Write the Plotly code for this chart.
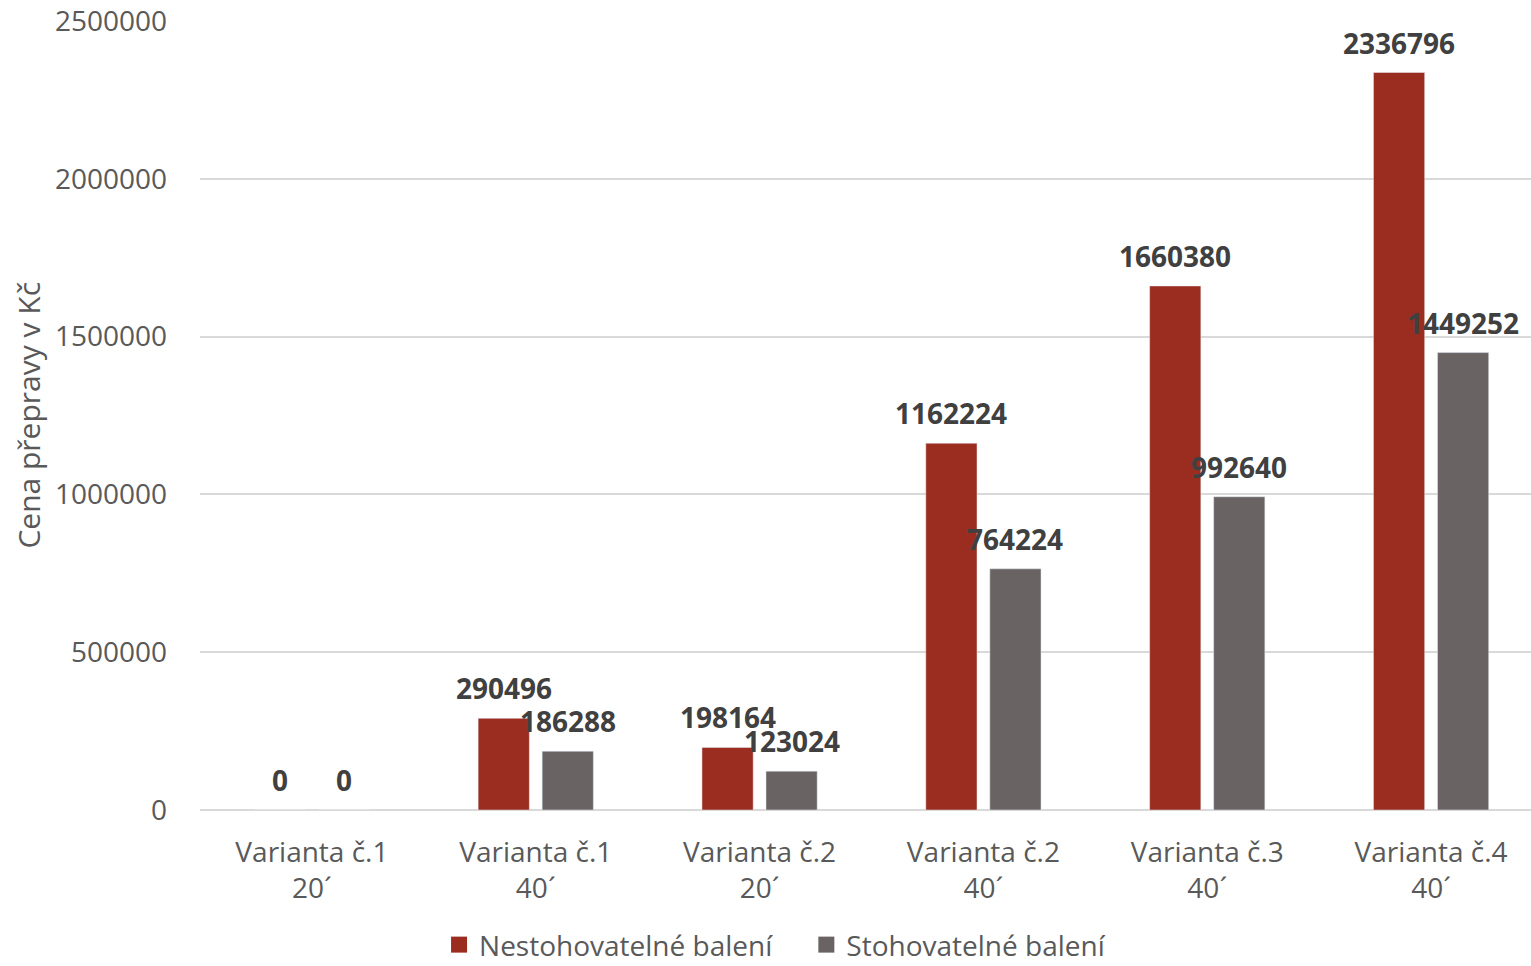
import plotly.graph_objects as go

categories = ["Varianta č.1<br>20´", "Varianta č.1<br>40´", "Varianta č.2<br>20´",
              "Varianta č.2<br>40´", "Varianta č.3<br>40´", "Varianta č.4<br>40´"]
nestohovatelne = [0, 290496, 198164, 1162224, 1660380, 2336796]
stohovatelne = [0, 186288, 123024, 764224, 992640, 1449252]
y_ticks = [0, 500000, 1000000, 1500000, 2000000, 2500000]
series_names = ["Nestohovatelné balení", "Stohovatelné balení"]
colors = ["#9B2D20", "#696463"]

FONT = "Open Sans"
TXT = "#595959"
LBL = dict(family=FONT, size=28, color="#404040", weight="bold")
NBSP = "\u00a0" * 4

fig = go.Figure()
for name, vals, col in zip(series_names, [nestohovatelne, stohovatelne], colors):
    fig.add_trace(go.Bar(x=categories, y=vals, name=name, marker_color=col,
                         showlegend=False))
# legend-only entries with larger square swatches
for name, col in zip(series_names, colors):
    fig.add_trace(go.Scatter(x=[None], y=[None], mode="markers", name=name + NBSP,
                             marker=dict(symbol="square", size=18, color=col)))

# data labels
for vals, shift in [(nestohovatelne, -32), (stohovatelne, 32)]:
    for c, v in zip(categories, vals):
        fig.add_annotation(x=c, y=v, xref="x", yref="y", text=str(v), showarrow=False,
                           xshift=shift, yanchor="bottom", yshift=9, font=LBL)

# y-axis title
fig.add_annotation(text="Cena přepravy v Kč", xref="paper", yref="paper",
                   x=-0.128, y=0.5, xanchor="center", yanchor="middle", textangle=-90,
                   showarrow=False, font=dict(family=FONT, size=30, color=TXT))

fig.update_layout(
    width=1543, height=985,
    margin=dict(l=200, r=0, t=21, b=175),
    paper_bgcolor="white", plot_bgcolor="white",
    barmode="group", bargap=0.428, bargroupgap=0.2,
    font=dict(family=FONT, size=28, color=TXT),
    legend=dict(orientation="h", x=0.178, xanchor="left", y=-0.171, yanchor="middle",
                font=dict(family=FONT, size=28, color=TXT), itemwidth=30),
)
fig.update_xaxes(showgrid=False, showline=False, ticks="", automargin=False,
                 ticklabelstandoff=23,
                 tickfont=dict(family=FONT, size=28, color=TXT))
fig.update_yaxes(range=[0, 2500000], tickvals=y_ticks, ticktext=[str(v) for v in y_ticks],
                 showgrid=True, gridcolor="#D9D9D9", gridwidth=1.5,
                 zeroline=True, zerolinecolor="#D9D9D9", zerolinewidth=1.5,
                 showline=False, ticks="", ticklabelstandoff=32, automargin=False,
                 tickfont=dict(family=FONT, size=28, color=TXT))

fig.write_html("out.html", config={"displayModeBar": False},
               post_script="document.body.style.margin='0';document.body.style.overflow='hidden';")
